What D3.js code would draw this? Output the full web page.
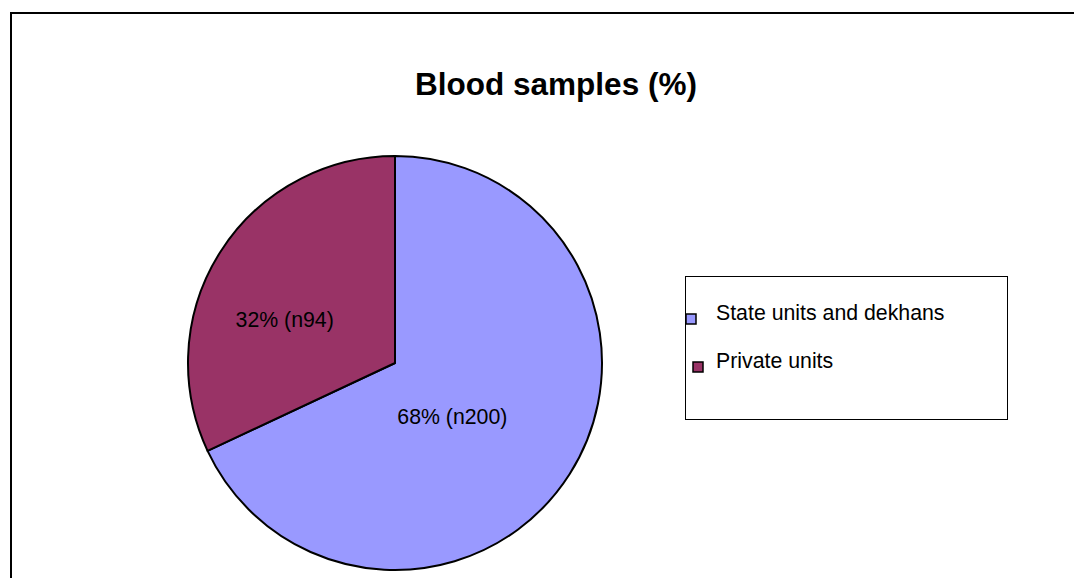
<!DOCTYPE html>
<html>
<head>
<meta charset="utf-8">
<script src="https://cdn.jsdelivr.net/npm/d3@7"></script>
<style>
  body { margin: 0; background: #fff; }
  svg { display: block; font-family: "Liberation Sans", Arial, sans-serif; }
</style>
</head>
<body>
<div id="chart"></div>
<script>
// Data
var categories = ["State units and dekhans", "Private units"];
var counts = [200, 94];
var percentLabels = ["68%", "32%"];
var colors = ["#9999FF", "#993366"];

// Layout
var width = 1074, height = 578;
var cx = 395, cy = 363, radius = 207;
// label nudges (Excel "best fit" placement)
var labelNudge = [[-30, -2], [-23, 12]];

var svg = d3
  .select("#chart")
  .append("svg")
  .attr("width", width)
  .attr("height", height);

// outer chart frame (runs off the right / bottom of the window)
svg
  .append("rect")
  .attr("x", 11)
  .attr("y", 13)
  .attr("width", 1100)
  .attr("height", 600)
  .attr("fill", "none")
  .attr("stroke", "#000")
  .attr("stroke-width", 2);

// Title
svg
  .append("text")
  .attr("x", 556)
  .attr("y", 95)
  .attr("text-anchor", "middle")
  .style("font-size", "31.5px")
  .style("font-weight", "bold")
  .text("Blood samples (%)");

// Pie
var pie = d3
  .pie()
  .sort(null)
  .value(function (d) {
    return d;
  });

var arc = d3.arc().innerRadius(0).outerRadius(radius);
var labelArc = d3.arc().innerRadius(radius * 0.5).outerRadius(radius * 0.5);

var g = svg.append("g").attr("transform", "translate(" + cx + "," + cy + ")");

var slices = pie(counts);

g.selectAll("path")
  .data(slices)
  .enter()
  .append("path")
  .attr("d", arc)
  .attr("fill", function (d, i) {
    return colors[i];
  })
  .attr("stroke", "#000")
  .attr("stroke-width", 2)
  .attr("stroke-linejoin", "round");

g.selectAll("text.lbl")
  .data(slices)
  .enter()
  .append("text")
  .attr("class", "lbl")
  .attr("x", function (d, i) {
    return labelArc.centroid(d)[0] + labelNudge[i][0];
  })
  .attr("y", function (d, i) {
    return labelArc.centroid(d)[1] + labelNudge[i][1];
  })
  .attr("text-anchor", "middle")
  .attr("dy", "0.35em")
  .style("font-size", "21.3px")
  .attr("fill", "#000")
  .text(function (d, i) {
    return percentLabels[i] + " (n" + counts[i] + ")";
  });

// Legend
var legend = svg.append("g");

legend
  .append("rect")
  .attr("x", 685.5)
  .attr("y", 276.5)
  .attr("width", 322)
  .attr("height", 143)
  .attr("fill", "#fff")
  .attr("stroke", "#000")
  .attr("stroke-width", 1);

var legendY = d3.scalePoint().domain(categories).range([320, 368]);
var markerX = [686, 693];

var item = legend
  .selectAll("g.item")
  .data(categories)
  .enter()
  .append("g")
  .attr("class", "item");

item
  .append("rect")
  .attr("x", function (d, i) {
    return markerX[i];
  })
  .attr("y", function (d) {
    return legendY(d) - 6;
  })
  .attr("width", 10)
  .attr("height", 10)
  .attr("fill", function (d, i) {
    return colors[i];
  })
  .attr("stroke", "#000")
  .attr("stroke-width", 1.5);

item
  .append("text")
  .attr("x", 716)
  .attr("y", function (d) {
    return legendY(d);
  })
  .style("font-size", "21.3px")
  .text(function (d) {
    return d;
  });
</script>
</body>
</html>
